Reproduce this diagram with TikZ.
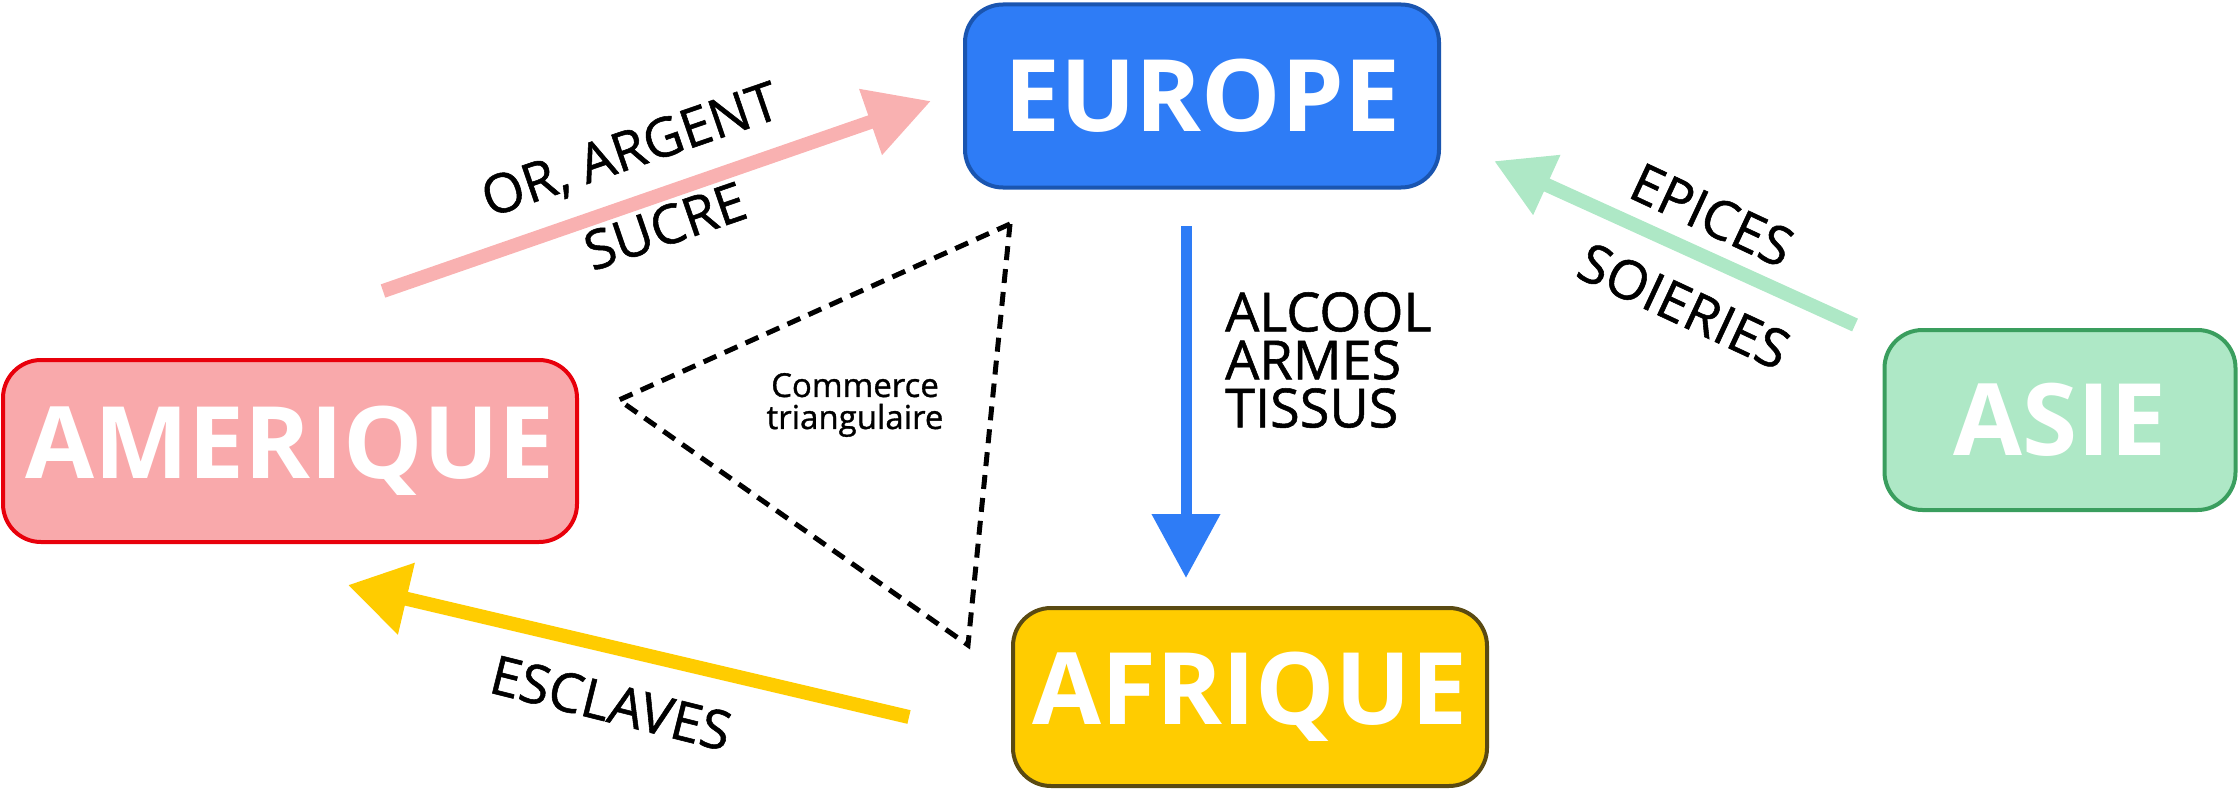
\documentclass[tikz,border=0pt]{standalone}
\usepackage{fontspec}
\setmainfont{Open Sans}
\newfontfamily\medfont{Open Sans}[FakeBold=1.0]
\usetikzlibrary{arrows.meta}
\definecolor{eufill}{HTML}{2E7CF6}
\definecolor{eudraw}{HTML}{1A55B0}
\definecolor{amfill}{HTML}{F9A9AB}
\definecolor{amdraw}{HTML}{E8000B}
\definecolor{asfill}{HTML}{AEE8C6}
\definecolor{asdraw}{HTML}{3A9E5E}
\definecolor{affill}{HTML}{FFCC00}
\definecolor{afdraw}{HTML}{5A4A12}
\definecolor{pinkarrow}{HTML}{F9B1B1}
\begin{document}
\begin{tikzpicture}[x=1pt,y=-1pt]
\tikzset{
  region/.style={rounded corners=38pt, line width=4pt, text=white,
    font=\bfseries\fontsize{100}{104}\selectfont, inner sep=0pt},
  lbl/.style={font=\medfont\fontsize{54}{48}\selectfont, text=black},
  flow/.style={line width=14pt},
  tri/.style={line width=5pt, dash pattern=on 14pt off 9pt, line join=miter}
}
\useasboundingbox (0,0) rectangle (2238,792);

\node[region, fill=eufill, draw=eudraw, minimum width=474pt, minimum height=183pt] (eu) at (1202,96) {EUROPE};
\node[region, fill=amfill, draw=amdraw, minimum width=574pt, minimum height=182pt] (am) at (290,451) {AMERIQUE};
\node[region, fill=asfill, draw=asdraw, minimum width=351pt, minimum height=180pt] (as) at (2060,420) {ASIE};
\node[region, fill=affill, draw=afdraw, minimum width=474pt, minimum height=178pt] (af) at (1250,697) {AFRIQUE};

% pink arrow America -> Europe
\coordinate (p1) at (383,291);
\coordinate (p2) at (931,101);
\draw[flow, pinkarrow, -{Triangle[length=64pt,width=66pt]}] (p1) -- (p2);
% blue arrow Europe -> Africa
\coordinate (b1) at (1186,226);
\coordinate (b2) at (1186,578);
\draw[line width=11pt, eufill, -{Triangle[length=64pt,width=66pt]}] (b1) -- (b2);
% green arrow Asia -> Europe
\coordinate (g1) at (1855,325);
\coordinate (g2) at (1494,161);
\draw[flow, asfill, -{Triangle[length=58pt,width=62pt]}] (g1) -- (g2);
% yellow arrow Africa -> America
\coordinate (y1) at (909,717);
\coordinate (y2) at (348,585);
\draw[flow, affill, -{Triangle[length=60pt,width=70pt]}] (y1) -- (y2);

% dashed triangle
\coordinate (t1) at (1010,224);
\coordinate (t2) at (619,400);
\coordinate (t3) at (968,645);
\draw[tri] (t1) -- (t2) -- (t3) -- cycle;

% labels
\node[lbl, rotate=19] (orarg) at (631,152) {OR, ARGENT};
\node[lbl, rotate=19] (sucre) at (665,226) {SUCRE};
\node[lbl, rotate=-25] (epices) at (1712,215) {EPICES};
\node[lbl, rotate=-25] (soie) at (1684,306) {SOIERIES};
\node[lbl, rotate=-14] (escl) at (611,703) {ESCLAVES};
\node[lbl, anchor=north west, align=left, inner sep=0pt] (alc) at (1225,292) {ALCOOL\\ARMES\\TISSUS};
\node[font=\medfont\fontsize{33}{32}\selectfont, align=center] (comm) at (855,405) {Commerce\\triangulaire};
\end{tikzpicture}
\end{document}
